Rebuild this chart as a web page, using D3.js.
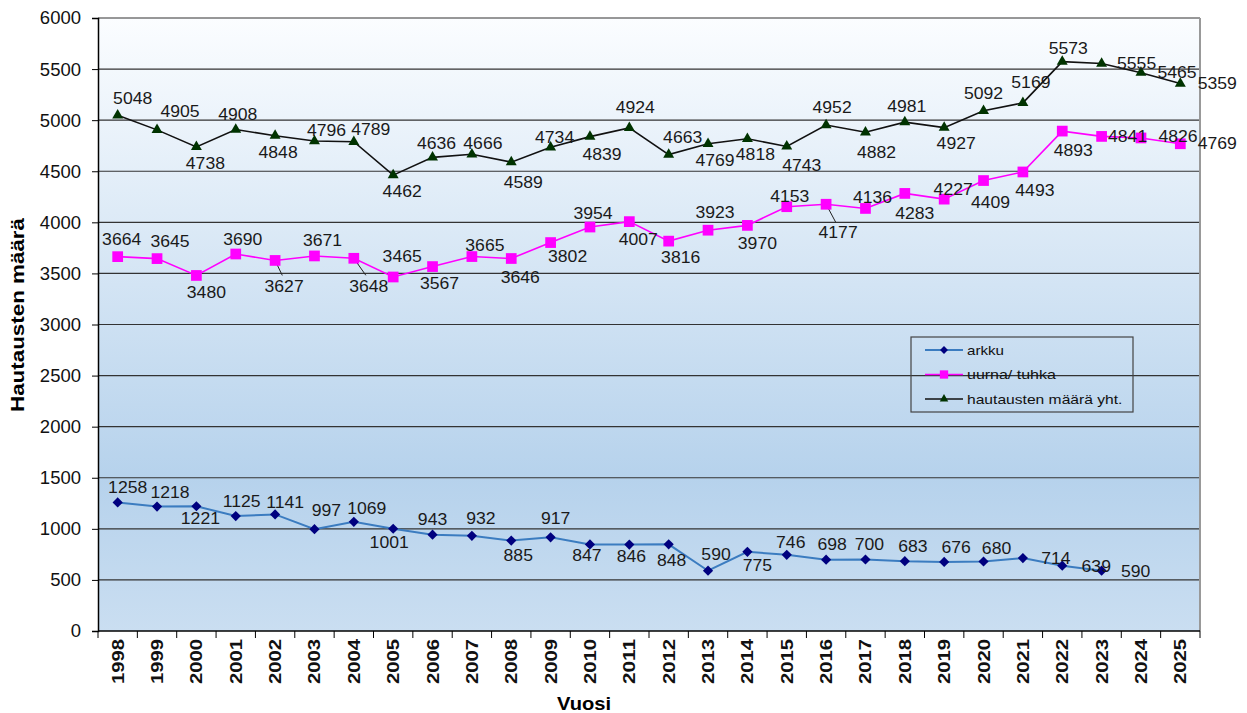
<!DOCTYPE html>
<html lang="fi">
<head>
    <meta charset="UTF-8">
    <title>Hautausten määrä</title>
    <script src="https://cdn.jsdelivr.net/npm/d3@7"></script>
    <style>
        body {
            margin: 0;
            background: #fff;
            font-family: "Liberation Sans", Arial, sans-serif;
        }
        svg {
            display: block;
        }
        .lbl {
            font-size: 16px;
            fill: #1a1a1a;
        }
    </style>
</head>
<body>
<svg width="1247" height="713"></svg>
<script>

    // data
    const years = d3.range(1998, 2026).map(String);
    const arkku = [1258, 1218, 1221, 1125, 1141, 997, 1069, 1001, 943, 932, 885, 917, 847, 846, 848,
        590, 775, 746, 698, 700, 683, 676, 680, 714, 639, 590];
    const uurna = [3664, 3645, 3480, 3690, 3627, 3671, 3648, 3465, 3567, 3665, 3646, 3802, 3954, 4007,
        3816, 3923, 3970, 4153, 4177, 4136, 4283, 4227, 4409, 4493, 4893, 4841, 4826, 4769];
    const yhteensa = [5048, 4905, 4738, 4908, 4848, 4796, 4789, 4462, 4636, 4666, 4589, 4734, 4839, 4924,
        4663, 4769, 4818, 4743, 4952, 4882, 4981, 4927, 5092, 5169, 5573, 5555, 5465, 5359];
    const yTicks = d3.range(0, 6001, 500);

    // where each data label sits relative to its point (dx, dy) - like the original excel labels
    const arkkuLbl = [[10,-15],[13,-14],[4,13],[6,-14],[10,-12],[12,-18],[13,-13],[-4,14],[0,-15],[9,-17],
        [7,15],[5,-19],[-3,11],[2,12],[3,16],[8,-16],[10,14],[4,-12],[6,-15],[4,-15],[8,-14],[12,-14],
        [13,-13],[33,1],[34,1],[34,1]];
    const uurnaLbl = [[4,-17],[13,-17],[10,17],[7,-14],[9,26],[8,-15],[15,28],[9,-20],[7,17],[13,-11],
        [9,19],[17,14],[3,-13],[9,18],[12,17],[7,-17],[10,18],[3,-10],[12,29],[7,-11],[10,20],[9,-9],
        [7,22],[12,19],[11,20],[26,0],[37,-1],[37,0]];
    const yhtLbl = [[15,-16],[23,-18],[9,17],[2,-15],[3,17],[12,-10],[17,-12],[9,17],[4,-14],[11,-11],
        [12,21],[4,-10],[12,18],[6,-20],[14,-17],[7,17],[8,16],[15,19],[6,-17],[11,21],[2,-15],[12,16],
        [0,-17],[8,-20],[6,-13],[35,0],[36,0],[37,0]];
    const leaderIdx = {uurna: [4, 6, 18]};

    const margin = {left: 98, right: 47, top: 18, bottom: 82};
    const width = 1247, height = 713;
    const svg = d3.select("svg");

    const x = d3.scaleBand()
        .domain(years)
        .range([margin.left, width - margin.right]);
    const y = d3.scaleLinear()
        .domain([0, 6000])
        .range([height - margin.bottom, margin.top]);
    const cx = d => x(d) + x.bandwidth() / 2;

    // background gradient
    const grad = svg.append("defs").append("linearGradient")
        .attr("id", "bg").attr("x1", 0).attr("x2", 0).attr("y1", 0).attr("y2", 1);
    grad.append("stop").attr("offset", "0%").attr("stop-color", "#fbfdff");
    grad.append("stop").attr("offset", "75%").attr("stop-color", "#b6d2ec");
    grad.append("stop").attr("offset", "100%").attr("stop-color", "#cadef1");

    svg.append("rect")
        .attr("x", margin.left).attr("y", margin.top)
        .attr("width", width - margin.left - margin.right)
        .attr("height", height - margin.top - margin.bottom)
        .attr("fill", "url(#bg)");

    // grid
    svg.append("g")
        .selectAll("line")
        .data(yTicks.filter(d => d > 0))
        .join("line")
        .attr("x1", margin.left).attr("x2", width - margin.right)
        .attr("y1", d => y(d)).attr("y2", d => y(d))
        .attr("stroke", "#333").attr("stroke-width", 1.2);

    // right frame edge
    svg.append("line")
        .attr("x1", width - margin.right).attr("x2", width - margin.right)
        .attr("y1", margin.top).attr("y2", height - margin.bottom)
        .attr("stroke", "#999").attr("stroke-width", 2);

    // y axis
    const yAxis = svg.append("g")
        .attr("transform", `translate(${margin.left},0)`)
        .call(d3.axisLeft(y).tickValues(yTicks).tickSize(6).tickPadding(11).tickFormat(d3.format("d")));
    yAxis.select(".domain").attr("stroke", "#000").attr("stroke-width", 1.5);
    yAxis.selectAll(".tick line").attr("stroke", "#000");
    yAxis.selectAll("text")
        .attr("font-size", 18.5).attr("fill", "#111")
        .attr("font-family", "Liberation Sans, Arial, sans-serif");

    // x axis: ticks between categories
    const xg = svg.append("g").attr("transform", `translate(0,${height - margin.bottom})`);
    xg.append("line")
        .attr("x1", margin.left).attr("x2", width - margin.right)
        .attr("stroke", "#000").attr("stroke-width", 1.5);
    xg.selectAll(".tk")
        .data(years.concat(["end"]))
        .join("line")
        .attr("class", "tk")
        .attr("x1", (d, i) => margin.left + i * x.step())
        .attr("x2", (d, i) => margin.left + i * x.step())
        .attr("y1", 0).attr("y2", 7)
        .attr("stroke", "#000");
    xg.selectAll(".yr")
        .data(years)
        .join("text")
        .attr("class", "yr")
        .attr("transform", d => `translate(${cx(d) + 6},8) rotate(-90)`)
        .attr("text-anchor", "end")
        .attr("font-size", 16).attr("font-weight", "bold").attr("fill", "#111")
        .attr("textLength", 45).attr("lengthAdjust", "spacingAndGlyphs")
        .text(d => d);

    // axis titles
    svg.append("text")
        .attr("transform", "translate(24,315) rotate(-90)")
        .attr("text-anchor", "middle")
        .attr("font-size", 18).attr("font-weight", "bold")
        .attr("textLength", 194).attr("lengthAdjust", "spacingAndGlyphs")
        .text("Hautausten määrä");
    svg.append("text")
        .attr("x", 584).attr("y", 710)
        .attr("text-anchor", "middle")
        .attr("font-size", 18).attr("font-weight", "bold")
        .attr("textLength", 54).attr("lengthAdjust", "spacingAndGlyphs")
        .text("Vuosi");

    const line = d3.line().x((d, i) => cx(years[i])).y(d => y(d));

    const series = [
        {key: "arkku", name: "arkku", vals: arkku, lbl: arkkuLbl, stroke: "#3b7cc0", sw: 2,
            mark: d3.symbolSquare, rot: 45, msize: 52, mfill: "#00007f"},
        {key: "uurna", name: "uurna/ tuhka", vals: uurna, lbl: uurnaLbl, stroke: "#ff00ff", sw: 1.6,
            mark: d3.symbolSquare, rot: 0, msize: 115, mfill: "#ff00ff"},
        {key: "yht", name: "hautausten määrä yht.", vals: yhteensa, lbl: yhtLbl, stroke: "#111", sw: 1.6,
            mark: d3.symbolTriangle, rot: 0, msize: 52, mfill: "#003300"}
    ];

    series.forEach(s => {
        const g = svg.append("g");
        g.append("path")
            .datum(s.vals)
            .attr("d", line)
            .attr("fill", "none")
            .attr("stroke", s.stroke)
            .attr("stroke-width", s.sw);

        // leader lines
        (leaderIdx[s.key] || []).forEach(i => {
            const px = cx(years[i]), py = y(s.vals[i]);
            g.append("line")
                .attr("x1", px).attr("y1", py)
                .attr("x2", px + s.lbl[i][0] * 0.8).attr("y2", py + s.lbl[i][1] - 11)
                .attr("stroke", "#222").attr("stroke-width", 1);
        });

        g.selectAll("path.m")
            .data(s.vals)
            .join("path")
            .attr("class", "m")
            .attr("transform", (d, i) => `translate(${cx(years[i])},${y(d)}) rotate(${s.rot})`)
            .attr("d", d3.symbol().type(s.mark).size(s.msize))
            .attr("fill", s.mfill);

        g.selectAll("text")
            .data(s.vals)
            .join("text")
            .attr("class", "lbl")
            .attr("transform", (d, i) =>
                `translate(${cx(years[i]) + s.lbl[i][0]},${y(d) + s.lbl[i][1]}) scale(1.1,1)`)
            .attr("text-anchor", "middle")
            .attr("dominant-baseline", "central")
            .text(d => d);
    });

    // legend
    const lg = svg.append("g").attr("transform", "translate(911,337)");
    lg.append("rect")
        .attr("width", 222).attr("height", 75)
        .attr("fill", "none").attr("stroke", "#444").attr("stroke-width", 1.2);
    series.forEach((s, i) => {
        const row = lg.append("g").attr("transform", `translate(0,${13 + i * 24.5})`);
        row.append("line")
            .attr("x1", 14).attr("x2", 52)
            .attr("stroke", s.stroke).attr("stroke-width", s.sw);
        row.append("path")
            .attr("transform", `translate(33,0) rotate(${s.rot})`)
            .attr("d", d3.symbol().type(s.mark).size(s.msize * 0.6))
            .attr("fill", s.mfill);
        row.append("text")
            .attr("x", 56).attr("dominant-baseline", "central")
            .attr("font-size", 13).attr("fill", "#111")
            .attr("textLength", s.name.length * 7.4).attr("lengthAdjust", "spacingAndGlyphs")
            .text(s.name);
    });

</script>
</body>
</html>
